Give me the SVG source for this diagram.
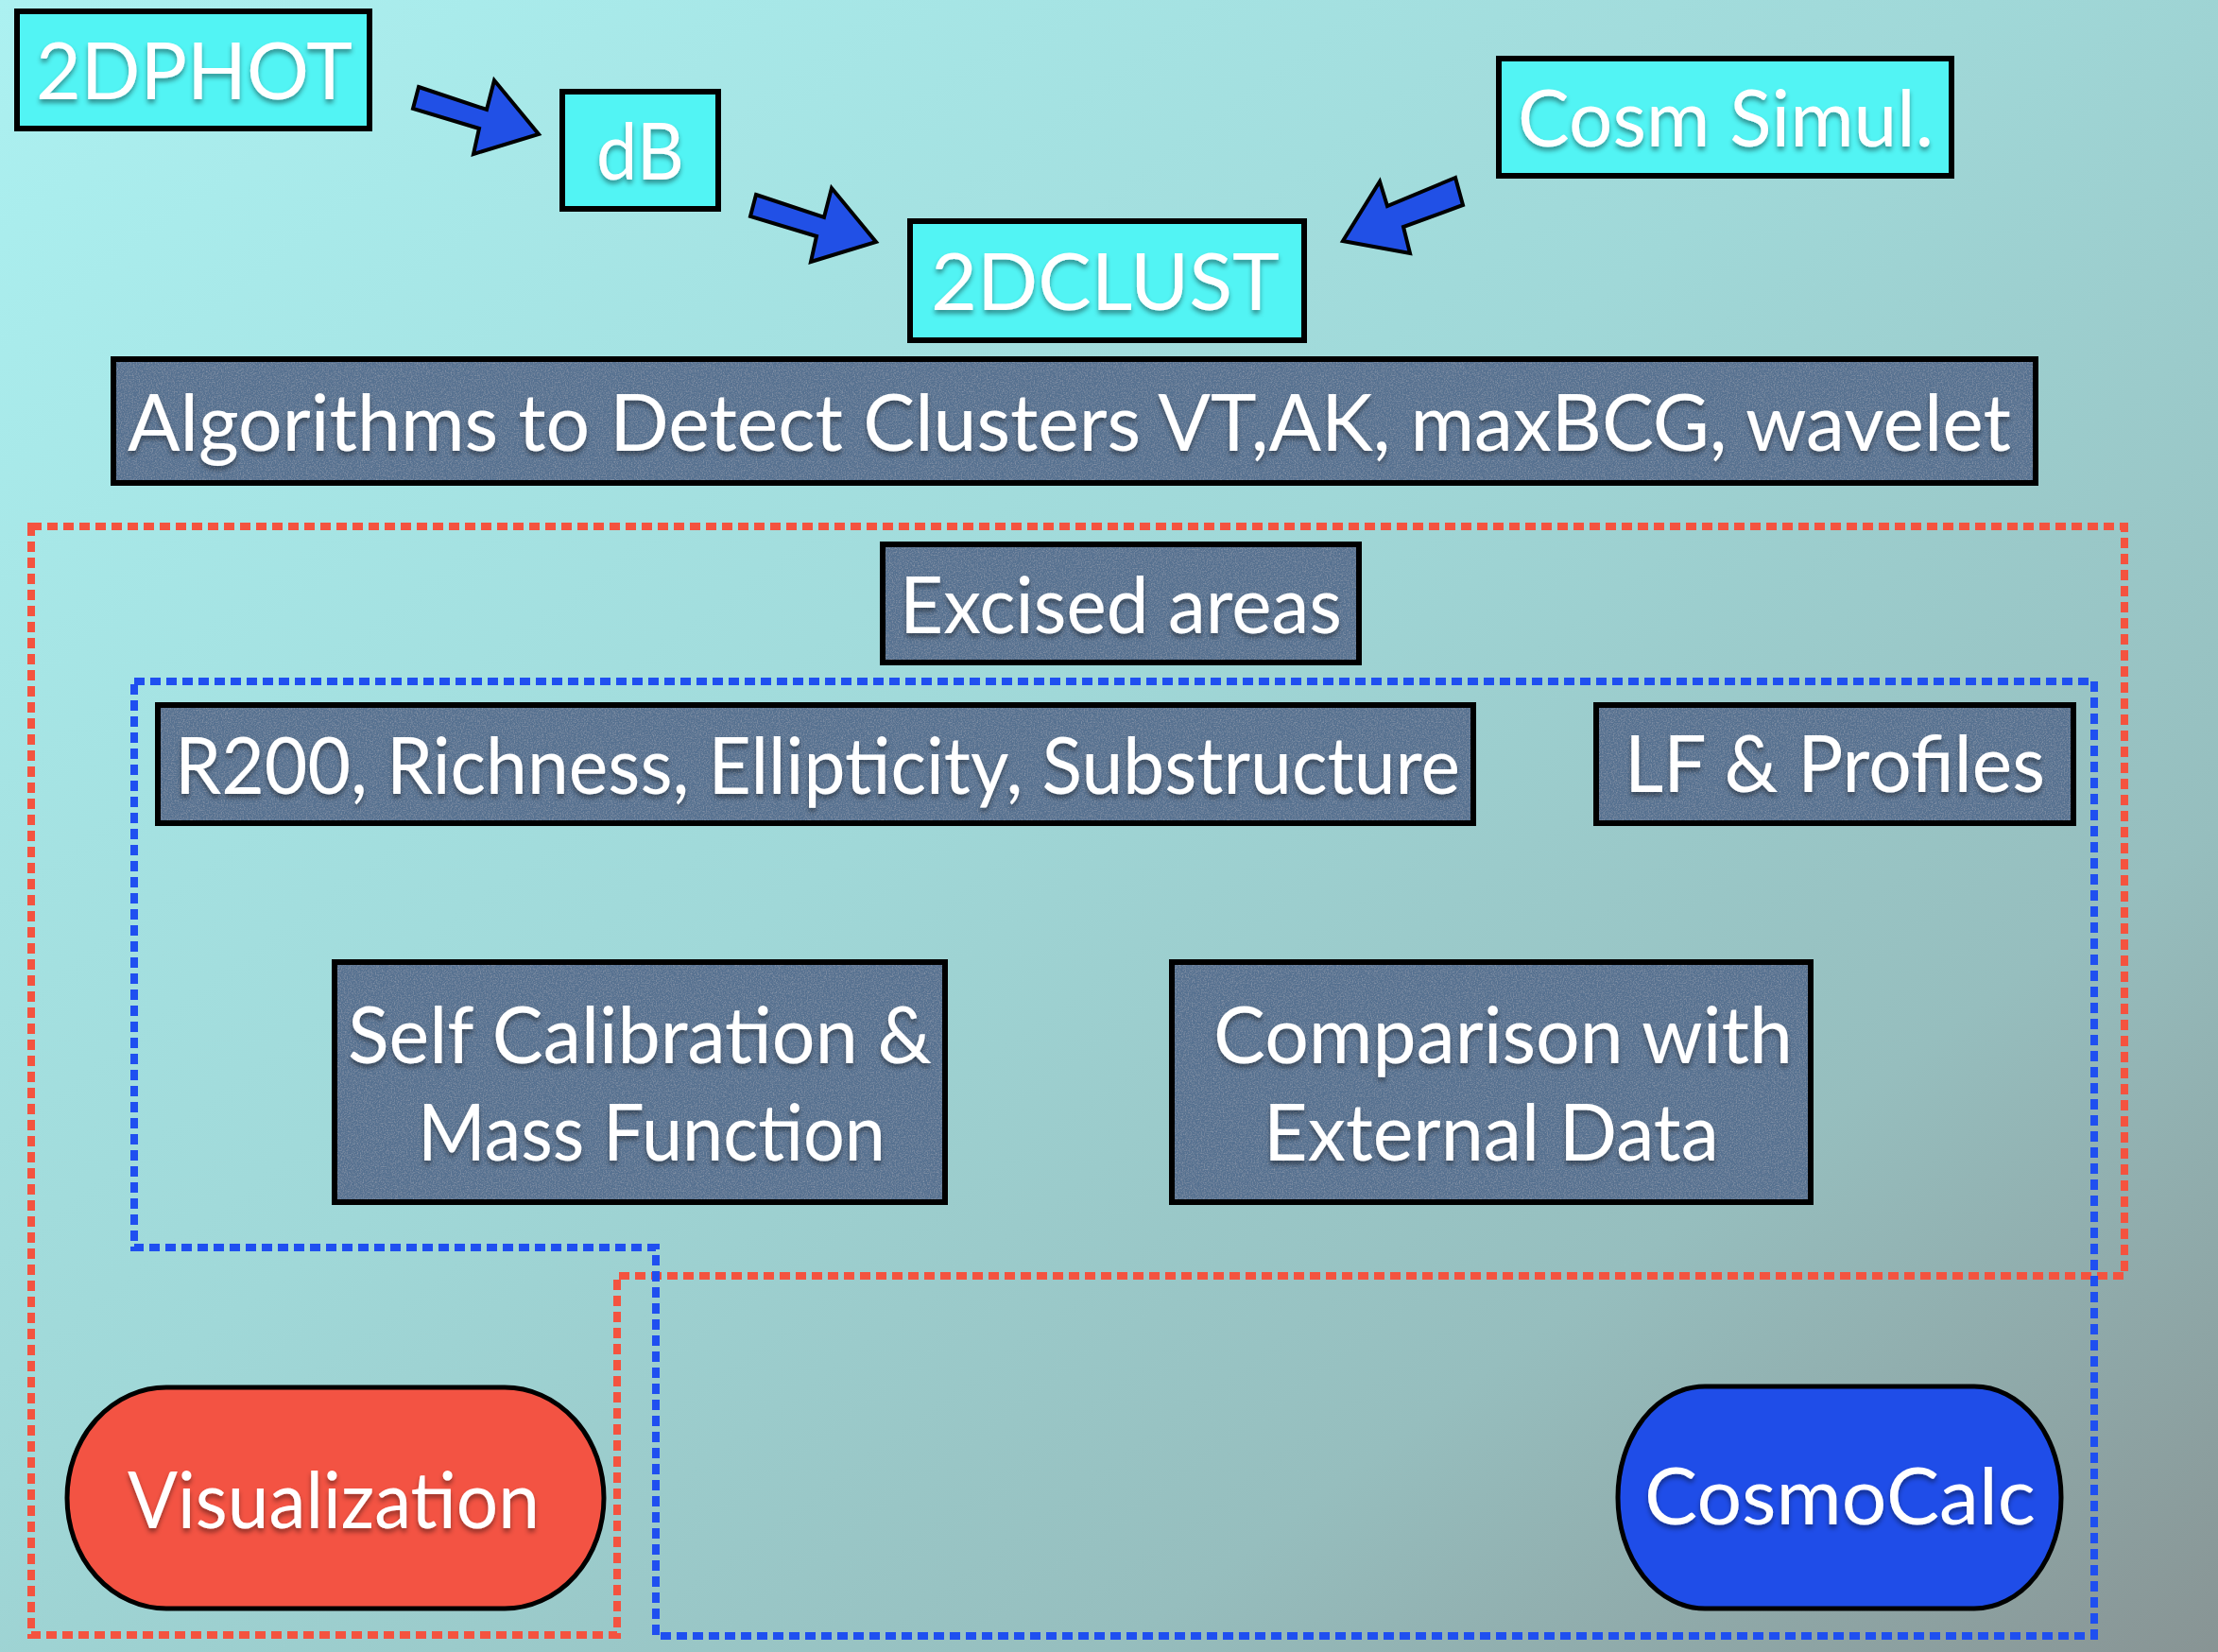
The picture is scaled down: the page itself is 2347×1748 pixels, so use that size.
<svg xmlns="http://www.w3.org/2000/svg" width="2347" height="1748" viewBox="0 0 2347 1748">
  <defs>
    <linearGradient id="bg" x1="0" y1="0" x2="1" y2="1">
      <stop offset="0" stop-color="#acf1f1"/>
      <stop offset="0.45" stop-color="#a0d8d8"/>
      <stop offset="0.75" stop-color="#96bebe"/>
      <stop offset="1" stop-color="#889494"/>
    </linearGradient>
    <filter id="shadow" x="-5%" y="-20%" width="110%" height="150%">
      <feDropShadow dx="0" dy="4" stdDeviation="2.5" flood-color="#000" flood-opacity="0.4"/>
    </filter>
    <filter id="grain" x="0" y="0" width="100%" height="100%">
      <feTurbulence type="fractalNoise" baseFrequency="0.7" numOctaves="2" seed="4" result="noise"/>
      <feColorMatrix in="noise" type="matrix" values="0 0 0 0 1  0 0 0 0 1  0 0 0 0 1  0.35 0 0 0 -0.15" result="speck"/>
      <feComposite in="speck" in2="SourceGraphic" operator="in" result="speckIn"/>
      <feMerge>
        <feMergeNode in="SourceGraphic"/>
        <feMergeNode in="speckIn"/>
      </feMerge>
    </filter>
    <style>
      .label { font-family: "Lato", "Open Sans", "Liberation Sans", sans-serif; font-size: 84px; fill: #ffffff; filter: url(#shadow); }
      .cyan { fill: #52f4f4; stroke: #000; stroke-width: 6; }
      .slate { fill: none; stroke: #000; stroke-width: 6; }
      .grain { fill: #567190; filter: url(#grain); }
      .arrow { fill: #2150e6; stroke: #000; stroke-width: 4; stroke-linejoin: miter; }
      .zone-red { fill: none; stroke: #f4533f; stroke-width: 8; stroke-dasharray: 11 6; }
      .zone-blue { fill: none; stroke: #1f4ff0; stroke-width: 8; stroke-dasharray: 11 6; }
      .pill { stroke: #000; stroke-width: 5; }
    </style>
  </defs>

  <!-- background -->
  <rect x="0" y="0" width="2347" height="1748" fill="url(#bg)"/>

  <!-- grouping zones -->
  <g id="zones">
    <path class="zone-red" d="M33,557 H2248 V1350 H653 V1730 H33 Z"/>
    <path class="zone-blue" d="M142,721 H2216 V1731 H694 V1320 H142 Z"/>
  </g>

  <!-- connectors -->
  <g id="connectors">
    <polygon class="arrow" points="443,92 515,116 523,85 570,142 501,163 507,136 437,115"/>
    <polygon class="arrow" points="800,206 872,230 880,199 927,256 858,277 864,250 794,229"/>
    <polygon class="arrow" points="1540,188 1468,218 1460,192 1421,255 1492,268 1485,240 1548,217"/>
  </g>

  <g id="node-2dphot">
    <rect class="cyan" x="18" y="12" width="373" height="124"/>
    <text class="label" x="38" y="105" textLength="335" lengthAdjust="spacingAndGlyphs">2DPHOT</text>
  </g>

  <g id="node-db">
    <rect class="cyan" x="595" y="97" width="165" height="124"/>
    <text class="label" x="631" y="190" textLength="93" lengthAdjust="spacingAndGlyphs">dB</text>
  </g>

  <g id="node-2dclust">
    <rect class="cyan" x="963" y="234" width="417" height="126"/>
    <text class="label" x="985" y="328" textLength="369" lengthAdjust="spacingAndGlyphs">2DCLUST</text>
  </g>

  <g id="node-cosm-simul">
    <rect class="cyan" x="1586" y="62" width="479" height="124"/>
    <text class="label" x="1606" y="155" textLength="440" lengthAdjust="spacingAndGlyphs">Cosm Simul.</text>
  </g>

  <g id="node-algorithms">
    <rect class="grain" x="120" y="380" width="2034" height="131"/>
    <rect class="slate" x="120" y="380" width="2034" height="131"/>
    <text class="label" x="135" y="477" textLength="1993" lengthAdjust="spacingAndGlyphs">Algorithms to Detect Clusters VT,AK, maxBCG, wavelet</text>
  </g>

  <g id="node-excised">
    <rect class="grain" x="934" y="576" width="504" height="125"/>
    <rect class="slate" x="934" y="576" width="504" height="125"/>
    <text class="label" x="952" y="670" textLength="468" lengthAdjust="spacingAndGlyphs">Excised areas</text>
  </g>

  <g id="node-r200">
    <rect class="grain" x="167" y="746" width="1392" height="125"/>
    <rect class="slate" x="167" y="746" width="1392" height="125"/>
    <text class="label" x="185" y="840" textLength="1360" lengthAdjust="spacingAndGlyphs">R200, Richness, Ellipticity, Substructure</text>
  </g>

  <g id="node-lf-profiles">
    <rect class="grain" x="1689" y="746" width="505" height="125"/>
    <rect class="slate" x="1689" y="746" width="505" height="125"/>
    <text class="label" x="1719" y="838" textLength="445" lengthAdjust="spacingAndGlyphs">LF &amp; Profiles</text>
  </g>

  <g id="node-self-calibration">
    <rect class="grain" x="354" y="1018" width="646" height="254"/>
    <rect class="slate" x="354" y="1018" width="646" height="254"/>
    <text class="label" x="368" y="1125" textLength="618" lengthAdjust="spacingAndGlyphs">Self Calibration &amp;</text>
    <text class="label" x="442" y="1228" textLength="495" lengthAdjust="spacingAndGlyphs">Mass Function</text>
  </g>

  <g id="node-comparison">
    <rect class="grain" x="1240" y="1018" width="676" height="254"/>
    <rect class="slate" x="1240" y="1018" width="676" height="254"/>
    <text class="label" x="1284" y="1125" textLength="613" lengthAdjust="spacingAndGlyphs">Comparison with</text>
    <text class="label" x="1337" y="1228" textLength="482" lengthAdjust="spacingAndGlyphs">External Data</text>
  </g>

  <g id="node-visualization">
    <rect class="pill" x="71" y="1468" width="568" height="234" rx="105" ry="117" fill="#f35343"/>
    <text class="label" x="135" y="1617" textLength="436" lengthAdjust="spacingAndGlyphs">Visualization</text>
  </g>

  <g id="node-cosmocalc">
    <rect class="pill" x="1712" y="1467" width="469" height="235" rx="92" ry="117" fill="#1f4de8"/>
    <text class="label" x="1740" y="1613" textLength="414" lengthAdjust="spacingAndGlyphs">CosmoCalc</text>
  </g>
</svg>
